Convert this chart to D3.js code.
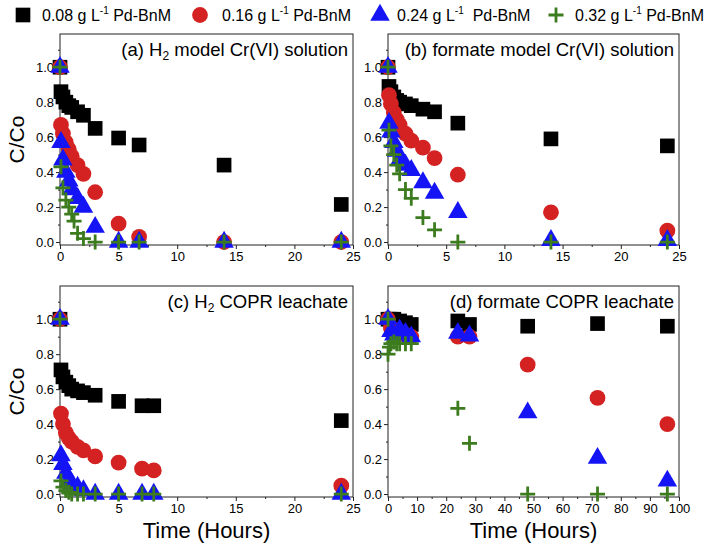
<!DOCTYPE html>
<html><head><meta charset="utf-8">
<script src="https://cdn.jsdelivr.net/npm/d3@7"></script>
<style>body{margin:0;background:#fff} svg{display:block} text{font-family:"Liberation Sans",Arial,sans-serif;fill:#000}</style>
</head><body><svg id="c" width="708" height="545"></svg>
<script>
// ---------- data ----------
const seriesDoses = ["0.08", "0.16", "0.24", "0.32"];
const seriesColors = ["#000000", "#d42222", "#1414f5", "#3c7c1e"];
const seriesShapes = ["square", "circle", "triangle", "plus"];

const panelTitles = ["(a) H|2| model Cr(VI) solution", "(b) formate model Cr(VI) solution",
                     "(c) H|2| COPR leachate", "(d) formate COPR leachate"];

// (a) H2 model Cr(VI) solution
const aTime  = [0, 0.083, 0.25, 0.5, 0.75, 1, 1.5, 2, 3, 5, 6.75, 14, 24];
const aBlack = [1.0, 0.86, 0.83, 0.80, 0.78, 0.77, 0.745, 0.725, 0.65, 0.595, 0.555, 0.44, 0.215];
const aRed   = [1.0, 0.67, 0.62, 0.57, 0.53, 0.49, 0.44, 0.39, 0.285, 0.105, 0.03, 0.0, 0.0];
const aBlue  = [1.0, 0.57, 0.47, 0.40, 0.35, 0.30, 0.25, 0.20, 0.085, 0.0, 0.0, 0.0, 0.0];
const aGreenTime = [0, 0.083, 0.25, 0.5, 0.75, 1, 1.2, 1.5, 2, 3, 5, 6.75, 14, 24];
const aGreen = [1.0, 0.43, 0.31, 0.24, 0.20, 0.16, 0.12, 0.05, 0.02, 0.0, 0.0, 0.0, 0.0, 0.0];

// (b) formate model Cr(VI) solution
const bTime  = [0, 0.083, 0.25, 0.5, 0.75, 1, 1.5, 2, 3, 4, 6, 14, 24];
const bBlack = [1.0, 0.89, 0.86, 0.83, 0.81, 0.80, 0.79, 0.78, 0.76, 0.745, 0.68, 0.59, 0.55];
const bRed   = [1.0, 0.84, 0.79, 0.74, 0.70, 0.67, 0.62, 0.58, 0.54, 0.48, 0.385, 0.17, 0.065];
const bBlue  = [1.0, 0.68, 0.63, 0.57, 0.52, 0.47, 0.44, 0.41, 0.34, 0.28, 0.17, 0.01, 0.01];
const bGreen = [1.0, 0.64, 0.55, 0.50, 0.44, 0.39, 0.30, 0.25, 0.14, 0.07, 0.0, 0.0, 0.0];

// (c) H2 COPR leachate
const cTime  = [0, 0.083, 0.25, 0.5, 0.75, 1, 1.5, 2, 3, 5, 7, 8, 24];
const cBlack = [1.0, 0.71, 0.67, 0.64, 0.62, 0.60, 0.59, 0.58, 0.565, 0.53, 0.505, 0.505, 0.42];
const cRed   = [1.0, 0.46, 0.40, 0.35, 0.32, 0.30, 0.27, 0.25, 0.215, 0.18, 0.145, 0.135, 0.048];
const cBlue  = [1.0, 0.22, 0.17, 0.12, 0.08, 0.06, 0.04, 0.02, 0.0, 0.0, 0.0, 0.0, 0.0];
const cGreen = [1.0, 0.075, 0.04, 0.02, 0.01, 0.0, 0.0, 0.0, 0.0, 0.0, 0.0, 0.0, 0.0];

// (d) formate COPR leachate
const dTime  = [0, 1, 2, 4, 6, 8, 24, 28, 48, 72, 96];
const dBlack = [1.0, 1.0, 1.0, 0.99, 0.98, 0.97, 0.99, 0.97, 0.96, 0.975, 0.96];
const dRed   = [1.0, 0.95, 0.94, 0.92, 0.91, 0.90, 0.90, 0.90, 0.74, 0.55, 0.40];
const dBlue  = [1.0, 0.93, 0.91, 0.94, 0.92, 0.90, 0.92, 0.905, 0.465, 0.205, 0.075];
const dGreenTime = [0, 0, 0.5, 1, 2, 3, 4, 6, 8, 24, 28, 48, 72, 96];
const dGreen = [1.0, 0.80, 0.84, 0.86, 0.87, 0.86, 0.86, 0.86, 0.86, 0.49, 0.29, 0.0, 0.0, 0.0];

const yMajorTicks = [0, 0.2, 0.4, 0.6, 0.8, 1.0];
const yMinorTicks = [0.1, 0.3, 0.5, 0.7, 0.9, 1.1];
const xMajor25 = [0, 5, 10, 15, 20, 25];
const xMinor25 = [2.5, 7.5, 12.5, 17.5, 22.5];
const xMajor100 = [0, 10, 20, 30, 40, 50, 60, 70, 80, 90, 100];
const xMinor100 = [5, 15, 25, 35, 45, 55, 65, 75, 85, 95];

// ---------- layout ----------
const svg = d3.select("#c");
const zip = (t, v) => t.map((d, i) => ({t: d, v: v[i]}));

const panels = [
  {x0: 60, x1: 353, y0: 34, y1: 245, xmax: 25, xMaj: xMajor25, xMin: xMinor25, title: panelTitles[0], ylab: true, xlab: false,
   series: [zip(aTime, aBlack), zip(aTime, aRed), zip(aTime, aBlue), zip(aGreenTime, aGreen)]},
  {x0: 388, x1: 679, y0: 34, y1: 245, xmax: 25, xMaj: xMajor25, xMin: xMinor25, title: panelTitles[1], ylab: false, xlab: false,
   series: [zip(bTime, bBlack), zip(bTime, bRed), zip(bTime, bBlue), zip(bTime, bGreen)]},
  {x0: 60, x1: 353, y0: 286, y1: 497, xmax: 25, xMaj: xMajor25, xMin: xMinor25, title: panelTitles[2], ylab: true, xlab: true,
   series: [zip(cTime, cBlack), zip(cTime, cRed), zip(cTime, cBlue), zip(cTime, cGreen)]},
  {x0: 388, x1: 679, y0: 286, y1: 497, xmax: 100, xMaj: xMajor100, xMin: xMinor100, title: panelTitles[3], ylab: false, xlab: true,
   series: [zip(dTime, dBlack), zip(dTime, dRed), zip(dTime, dBlue), zip(dGreenTime, dGreen)]}
];

function drawMarker(g, shape, color, data, x, y) {
  if (shape === "plus") {
    const s = 7.5;
    g.selectAll(null).data(data).enter().append("path")
      .attr("d", d => `M${x(d.t)-s},${y(d.v)}H${x(d.t)+s}M${x(d.t)},${y(d.v)-s}V${y(d.v)+s}`)
      .attr("stroke", color).attr("stroke-width", 2.8).attr("fill", "none");
  } else {
    const type = shape === "square" ? d3.symbolSquare : shape === "circle" ? d3.symbolCircle : d3.symbolTriangle;
    const size = shape === "square" ? 215 : shape === "circle" ? 195 : 165;
    g.selectAll(null).data(data).enter().append("path")
      .attr("d", d3.symbol(type, size))
      .attr("transform", d => `translate(${x(d.t)},${y(d.v)})`)
      .attr("fill", color);
  }
}

function markerAt(g, shape, color, cx, cy) {
  drawMarker(g, shape, color, [{t: 0, v: 0}], () => cx, () => cy);
}

function titleText(g, str, xr, yb) {
  const parts = str.split("|");
  const t = g.append("text").attr("x", xr).attr("y", yb).attr("text-anchor", "end").attr("font-size", 18.5);
  if (parts.length === 1) { t.text(str); return; }
  t.append("tspan").text(parts[0]);
  t.append("tspan").text(parts[1]).attr("font-size", 12).attr("dy", 4);
  t.append("tspan").text(parts[2]).attr("dy", -4);
}

panels.forEach(p => {
  const x = d3.scaleLinear().domain([0, p.xmax]).range([p.x0, p.x1]);
  const y = d3.scaleLinear().domain([-0.017, 1.19]).range([p.y1, p.y0]);
  const g = svg.append("g");

  // axes
  g.append("g").attr("transform", `translate(0,${p.y1})`)
    .call(d3.axisBottom(x).tickValues(p.xMaj).tickSize(4).tickPadding(3).tickFormat(d3.format("d")));
  g.append("g").attr("transform", `translate(0,${p.y1})`)
    .call(d3.axisBottom(x).tickValues(p.xMin).tickSize(2).tickFormat(""));
  g.append("g").attr("transform", `translate(${p.x0},0)`)
    .call(d3.axisLeft(y).tickValues(yMajorTicks).tickSize(4).tickPadding(2).tickFormat(d3.format(".1f")));
  g.append("g").attr("transform", `translate(${p.x0},0)`)
    .call(d3.axisLeft(y).tickValues(yMinorTicks).tickSize(2).tickFormat(""));
  g.selectAll(".domain").remove();
  g.selectAll(".tick line").attr("stroke", "#222");
  g.selectAll(".tick text").attr("font-size", 13).attr("font-family", "'Liberation Sans',Arial,sans-serif").attr("fill", "#000");

  // frame
  g.append("rect").attr("x", p.x0).attr("y", p.y0).attr("width", p.x1 - p.x0).attr("height", p.y1 - p.y0)
    .attr("fill", "none").attr("stroke", "#222").attr("stroke-width", 1);

  // markers
  p.series.forEach((s, i) => drawMarker(g, seriesShapes[i], seriesColors[i], s, x, y));

  titleText(g, p.title, p.x1 - 5, p.y0 + 22);

  if (p.ylab) {
    g.append("text").attr("transform", `translate(24,${(p.y0 + p.y1) / 2}) rotate(-90)`)
      .attr("text-anchor", "middle").attr("font-size", 21).text("C/Co");
  }
  if (p.xlab) {
    g.append("text").attr("x", (p.x0 + p.x1) / 2).attr("y", 538)
      .attr("text-anchor", "middle").attr("font-size", 22).text("Time (Hours)");
  }
});

// legend
const legX = [23, 200, 380, 556];
const legTX = [42, 222, 397, 575];
const leg = svg.append("g");
seriesDoses.forEach((dose, i) => {
  markerAt(leg, seriesShapes[i], seriesColors[i], legX[i], 15);
  const t = leg.append("text").attr("x", legTX[i]).attr("y", 21).attr("font-size", 16);
  t.append("tspan").text(dose + " g L");
  t.append("tspan").text("-1").attr("font-size", 10).attr("dy", -7);
  t.append("tspan").text((i === 2 ? "  " : " ") + "Pd-BnM").attr("dy", 7).attr("xml:space", "preserve");
});
</script></body></html>
